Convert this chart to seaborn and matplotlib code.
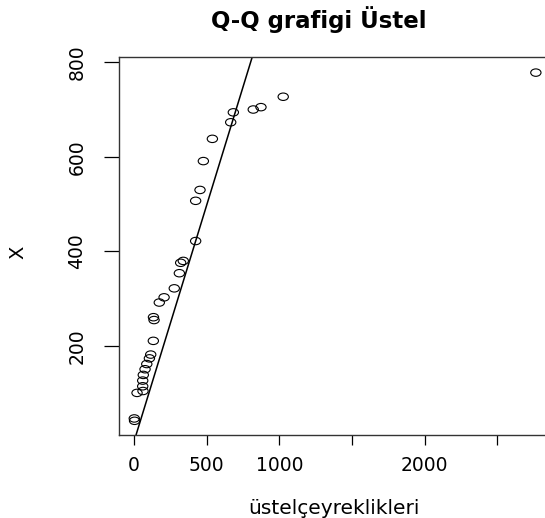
import matplotlib
matplotlib.use("Agg")
import matplotlib.pyplot as plt
import seaborn as sns
import pandas as pd
from matplotlib.path import Path
from matplotlib.markers import MarkerStyle
from matplotlib.transforms import Affine2D

# Data (theoretical exponential quantiles vs sample X)
quantiles = [3, 5, 22, 63, 61, 61, 65, 77, 89, 107, 116, 134, 135, 139, 175, 208,
             278, 313, 322, 340, 425, 425, 455, 478, 540, 666, 684, 821, 874, 1027, 2764]
x_values = [47, 42, 101, 105, 115, 127, 139, 151, 162, 174, 182, 211, 261, 255, 292, 303,
            322, 354, 376, 380, 422, 507, 530, 591, 638, 673, 694, 700, 705, 727, 778]
line_intercept = -3.0
line_slope = 1.0

title = "Q-Q grafigi Üstel"
xlabel = "üstelçeyreklikleri"
ylabel = "X"
xticks = [0, 500, 1000, 1500, 2000, 2500]
xticklabels = ["0", "500", "1000", "", "2000", ""]
yticks = [200, 400, 600, 800]
yticklabels = ["200", "400", "600", "800"]

sns.set_style("ticks")
plt.rcParams["font.family"] = ["DejaVu Sans"]

df = pd.DataFrame({"q": quantiles, "x": x_values})

fig = plt.figure(figsize=(5.45, 5.18), dpi=100)
ax = fig.add_axes([119 / 545, 1 - 435 / 518, (552 - 119) / 545, (435 - 57) / 518])

ell = Path.unit_circle().transformed(Affine2D().scale(1.0, 0.72))
sns.scatterplot(data=df, x="q", y="x", ax=ax, marker=MarkerStyle(ell), s=55,
                facecolor="none", edgecolor="black", linewidth=0.8, zorder=3)
ax.axline((0, line_intercept), slope=line_slope, color="black", lw=1.1, zorder=2)

ax.set_xlim(-102, 2875)
ax.set_ylim(12, 811)

ax.set_xticks(xticks)
ax.set_xticklabels(xticklabels, fontsize=13.5)
ax.set_yticks(yticks)
ax.set_yticklabels(yticklabels, fontsize=13.5, rotation=90, va="center")
ax.tick_params(axis="x", length=7.2, width=0.9, pad=8, colors="black")
ax.tick_params(axis="y", length=10.5, width=0.9, pad=13, colors="black")

for side in ["left", "bottom", "top"]:
    ax.spines[side].set_visible(True)
    ax.spines[side].set_color("#333333")
    ax.spines[side].set_linewidth(1.0)
ax.spines["right"].set_visible(False)

ax.set_xlabel("")
ax.set_ylabel("")
fig.text(333.7 / 545, 1 - 508.6 / 518, xlabel, ha="center", va="center", fontsize=14.5, color="black")
fig.text(18 / 545, 1 - 252 / 518, ylabel, ha="center", va="center", fontsize=14, rotation=90, color="black")
fig.text(319 / 545, 1 - 20 / 518, title, ha="center", va="center", fontsize=16.5, fontweight="bold", color="black")

fig.savefig("out.png", dpi=100)
